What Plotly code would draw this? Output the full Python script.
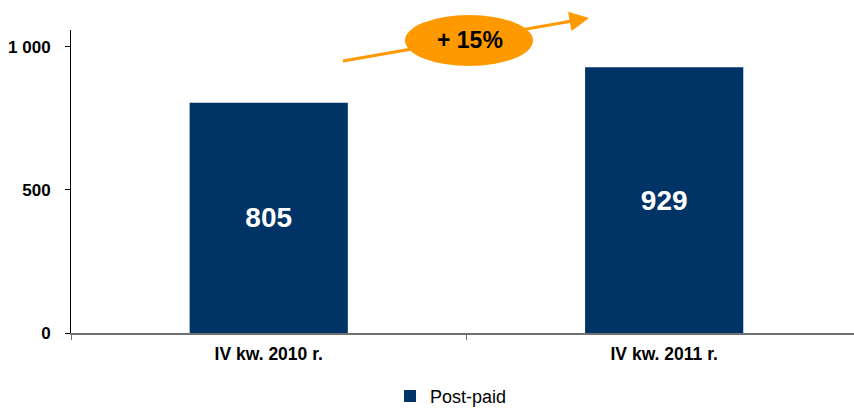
import plotly.graph_objects as go

categories = ["IV kw. 2010 r.", "IV kw. 2011 r."]
postpaid = [805, 929]
y_ticks = [0, 500, 1000]
y_tick_labels = ["0", "500", "1 000"]
growth_label = "+ 15%"

BAR = "#003366"
ORANGE = "#FF9900"
FONT = "Liberation Sans, Arial, sans-serif"

fig = go.Figure()
fig.add_trace(go.Bar(
    x=categories, y=postpaid, name="Post-paid",
    marker=dict(color=BAR, line=dict(width=0)),
    width=0.4,
    text=[str(v) for v in postpaid], textposition="inside",
    insidetextanchor="middle",
    textfont=dict(family=FONT, size=28, color="white", weight="bold"),
))

fig.update_layout(
    width=854, height=408,
    margin=dict(l=71, r=0, t=30, b=75, autoexpand=False),
    paper_bgcolor="white", plot_bgcolor="white",
    font=dict(family=FONT, color="black"),
    showlegend=True,
    legend=dict(orientation="h", x=(390 - 71) / 783, xanchor="left", y=-0.148, yanchor="top",
                font=dict(family=FONT, size=18, color="black"), itemwidth=30),
    bargap=0.6,
    xaxis=dict(
        range=[-0.5, 1.48], showline=True, linecolor="#707070", linewidth=1.5,
        ticks="outside", tickson="boundaries", ticklen=5, tickcolor="#707070",
        tickvals=categories, ticktext=["<b>%s</b>" % c for c in categories],
        tickfont=dict(family=FONT, size=17.5, color="black"),
        ticklabelstandoff=4,
        showgrid=False, zeroline=False,
    ),
    yaxis=dict(
        range=[0, 1059.4], showline=True, linecolor="black", linewidth=1,
        ticks="outside", ticklen=5, tickcolor="black",
        tickvals=y_ticks, ticktext=["<b>%s</b>" % t for t in y_tick_labels],
        tickfont=dict(family=FONT, size=17, color="black"),
        ticklabelstandoff=11,
        showgrid=False, zeroline=False,
    ),
)

# growth arrow: shaft below the ellipse, head via annotation
def px(x):
    return (x - 71) / 783

def py(y):
    return (333 - y) / 303

fig.add_shape(type="line", xref="paper", yref="paper",
              x0=px(343), y0=py(61), x1=px(578), y1=py(20),
              line=dict(color=ORANGE, width=3), layer="above")
fig.add_annotation(
    xref="paper", yref="paper", x=px(589), y=py(18),
    axref="pixel", ayref="pixel", ax=-25, ay=4.4,
    text="", showarrow=True, arrowhead=2, arrowsize=1.3, arrowwidth=3,
    arrowcolor=ORANGE,
)
# ellipse
fig.add_shape(type="circle", xref="paper", yref="paper",
              x0=px(405), x1=px(533), y0=py(66), y1=py(15),
              fillcolor=ORANGE, line=dict(width=0), layer="above")
fig.add_annotation(xref="paper", yref="paper", x=px(469.5), y=py(40),
                   xanchor="center", yanchor="middle",
                   text="<b>%s</b>" % growth_label, showarrow=False,
                   font=dict(family=FONT, size=23, color="black"))

fig.write_html("out.html", config={"displayModeBar": False},
               post_script="document.body.style.margin='0';document.body.style.padding='0';")
